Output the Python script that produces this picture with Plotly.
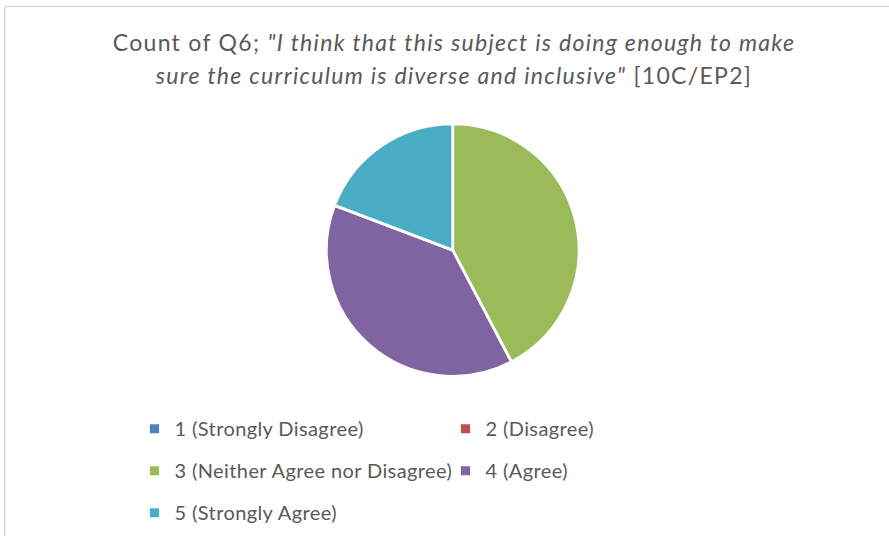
import plotly.graph_objects as go

# Survey responses for Q6 (counts per answer option)
labels = [
    "1 (Strongly Disagree)",
    "2 (Disagree)",
    "3 (Neither Agree nor Disagree)",
    "4 (Agree)",
    "5 (Strongly Agree)",
]
counts = [0, 0, 11, 10, 5]
colors = ["#4f81bd", "#c0504d", "#9bbb59", "#8064a2", "#4bacc6"]

title_lines = [
    'Count of Q6; <i>"I think that this subject is doing enough to make</i>',
    '<i>sure the curriculum is diverse and inclusive"</i> [10C/EP2]',
]

FONT = "Lato"
TEXT_COLOR = "#595959"

# Text is drawn at a fixed size inside a larger line box so the rows get roomier spacing
legend_labels = [
    f'<span style="font-size:20px;letter-spacing:0.4px;baseline-shift:4px">{t}</span>'
    for t in labels
]
title_text = "<br>".join(
    f'<span style="font-size:23px;letter-spacing:1.3px">{t}</span>' for t in title_lines
)

W, H = 889, 539

fig = go.Figure(
    go.Pie(
        labels=legend_labels,
        values=counts,
        marker=dict(colors=colors, line=dict(color="white", width=2.8)),
        sort=False,
        direction="clockwise",
        rotation=0,
        textinfo="none",
        hoverinfo="label+value+percent",
        domain=dict(x=[(452.7 - 127) / W, (452.7 + 127) / W],
                    y=[1 - 378.5 / H, 1 - 124.5 / H]),
    )
)

fig.update_layout(
    width=W,
    height=H,
    margin=dict(l=0, r=0, t=0, b=0),
    paper_bgcolor="white",
    plot_bgcolor="white",
    font=dict(family=FONT, color=TEXT_COLOR),
    title=dict(
        text=title_text,
        font=dict(family=FONT, size=25.4, color=TEXT_COLOR),
        x=454 / W,
        xanchor="center",
        y=1 - 51 / H,
        yanchor="top",
        yref="container",
    ),
    legend=dict(
        orientation="h",
        x=(161.5 - 20) / W,
        xanchor="left",
        y=1 - 405 / H,
        yanchor="top",
        font=dict(family=FONT, size=30, color=TEXT_COLOR),
        entrywidth=273,
        entrywidthmode="pixels",
        indentation=-7,
        bgcolor="rgba(0,0,0,0)",
        traceorder="normal",
    ),
    shapes=[
        dict(type="line", xref="paper", yref="paper",
             x0=4.8 / W, x1=1, y0=1 - 6.5 / H, y1=1 - 6.5 / H,
             line=dict(color="#d9d9d9", width=1.5)),
        dict(type="line", xref="paper", yref="paper",
             x0=4.8 / W, x1=4.8 / W, y0=0, y1=1 - 6.5 / H,
             line=dict(color="#d9d9d9", width=1.5)),
    ],
)

fig.write_html("out.html")
